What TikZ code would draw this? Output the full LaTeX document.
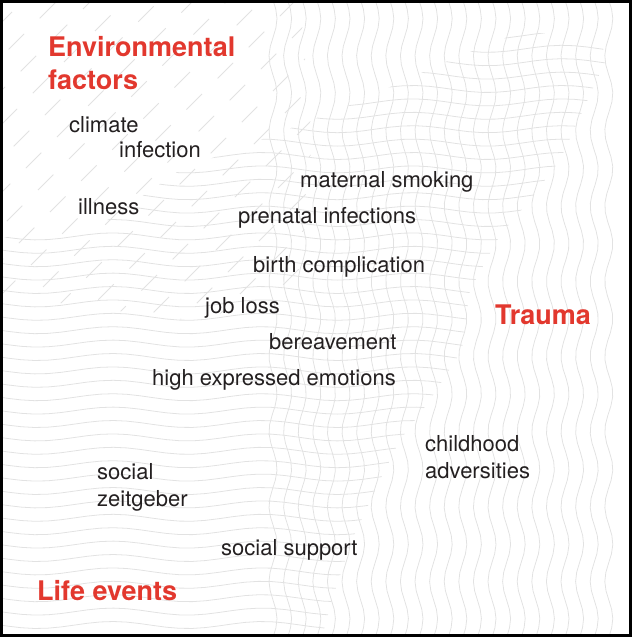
\documentclass[tikz,border=0pt]{standalone}
\usepackage{fontspec}
\setmainfont{TeX Gyre Heros}
\usepackage{xcolor}
\definecolor{headred}{RGB}{226,56,46}
\definecolor{texture}{RGB}{226,226,226}
\definecolor{ink}{RGB}{35,31,32}
\tikzset{
  wave/.style={draw=texture, line width=0.8pt},
  factor/.style={inner sep=0pt, anchor=base west, text=ink, align=left,
    font=\fontsize{22}{26.5}\selectfont},
  heading/.style={inner sep=0pt, anchor=base west, text=headred, align=left,
    font=\fontsize{27}{32.5}\selectfont\bfseries},
}

\begin{document}
\begin{tikzpicture}[x=1pt, y=-1pt]
\useasboundingbox (0,0) rectangle (632,637);
% environmental factors: diagonal dashes
\begin{scope}
\clip (0,0) -- (300,0) -- (312,140) -- (300,280) -- (200,322) -- (0,295) -- cycle;
\foreach \k in {0,...,21} \draw [wave, dash pattern=on 22pt off 22pt, dash phase=\k*13pt] (\k*34, -10) -- ++(-380, 380);
\end{scope}
% life events: horizontal waves
\begin{scope}
\clip (0,238) -- (100,225) -- (180,170) -- (260,140) -- (350,105) -- (450,60) -- (520,32) -- (600,36) -- (606,60) -- (560,160) -- (530,200) -- (500,235) -- (470,290) -- (462,350) -- (430,400) -- (400,440) -- (380,480) -- (352,540) -- (332,600) -- (322,637) -- (0,637) -- cycle;
\foreach \j in {0,...,46} \draw [wave] plot [variable=\t, domain=-5:640, samples=50] (\t, {22 + 13.4*\j + 3.5*sin(2.4*\t)});
\end{scope}
% trauma: vertical waves
\foreach \i in {0,...,23} \draw [wave] plot [variable=\t, domain=0:637, samples=70] ({273 + 14.6*\i + 4*sin(4.8*\t)}, \t);

% headings
\node [heading] (env) at (48,89) {Environmental\\factors};
\node [heading] (trauma) at (495,324.5) {Trauma};
\node [heading] (life) at (37,600) {Life events};

% factors
\node [factor] (climate) at (69,132) {climate};
\node [factor] (infection) at (119,157.5) {infection};
\node [factor] (illness) at (78,214) {illness};
\node [factor] (smoking) at (300,187) {maternal smoking};
\node [factor] (prenatal) at (238,223) {prenatal infections};
\node [factor] (birth) at (253,272) {birth complication};
\node [factor] (job) at (205,313) {job loss};
\node [factor] (bereave) at (269,349) {bereavement};
\node [factor] (emotions) at (152,385) {high expressed emotions};
\node [factor] (childhood) at (425,478) {childhood\\adversities};
\node [factor] (zeitgeber) at (97,506) {social\\zeitgeber};
\node [factor] (support) at (221,555) {social support};

% frame
\draw [line width=3pt] (1.5,1.5) rectangle (630.5,635.5);
\end{tikzpicture}
\end{document}
